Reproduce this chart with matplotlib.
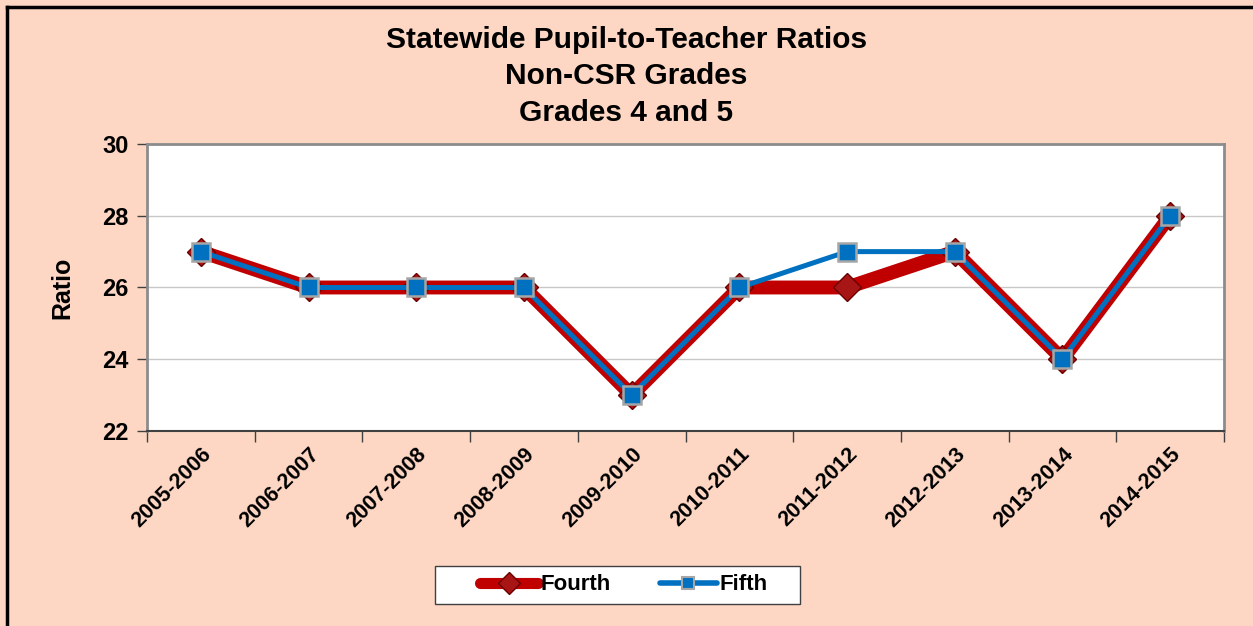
import numpy as np
import matplotlib.pyplot as plt
from matplotlib.lines import Line2D
from matplotlib.patches import Rectangle

plt.rcParams['font.family'] = ['Liberation Sans', 'DejaVu Sans']

# data
years = ["2005-2006", "2006-2007", "2007-2008", "2008-2009", "2009-2010",
         "2010-2011", "2011-2012", "2012-2013", "2013-2014", "2014-2015"]
fourth = [27, 26, 26, 26, 23, 26, 26, 27, 24, 28]
fifth = [27, 26, 26, 26, 23, 26, 27, 27, 24, 28]

bg = "#FDD7C4"
red = "#C00000"
blue = "#0070C0"

fig = plt.figure(figsize=(12.53, 6.26), dpi=100, facecolor=bg)
ax = fig.add_axes([0.1173, 0.3115, 0.8596, 0.4585])
ax.set_facecolor("white")

x = np.arange(len(years))
ax.plot(x, fourth, color=red, lw=10, solid_capstyle="round", solid_joinstyle="round",
        marker="D", markersize=14, markerfacecolor="#A81515", markeredgecolor="#6A0000",
        markeredgewidth=1, zorder=3)
ax.plot(x, fifth, color=blue, lw=3.6, solid_joinstyle="round",
        marker="s", markersize=13.5, markerfacecolor=blue, markeredgecolor="#A6A6A6",
        markeredgewidth=1.8, zorder=4)

ax.set_xlim(-0.5, len(years) - 0.5)
ax.set_ylim(22, 30)
ax.set_yticks([22, 24, 26, 28, 30])
ax.yaxis.grid(True, color="#C8C8C8", lw=1)
ax.set_axisbelow(True)

# x ticks at category boundaries, labels centered
ax.set_xticks(np.arange(-0.5, len(years), 1.0))
ax.set_xticklabels([])
ax.set_xticks(x, minor=True)
ax.set_xticklabels(years, minor=True, rotation=45, ha="right", rotation_mode="anchor",
                   fontsize=15.5, fontweight="bold")
ax.tick_params(axis="x", which="major", length=8, color="#404040", width=1)
ax.tick_params(axis="x", which="minor", length=0, pad=9)
ax.tick_params(axis="y", length=7, width=1, color="#404040", labelsize=17, pad=6)
for lab in ax.get_yticklabels():
    lab.set_fontweight("bold")

for side in ["left", "top", "right"]:
    ax.spines[side].set_color("#8C8C8C")
    ax.spines[side].set_linewidth(2)
ax.spines["bottom"].set_color("#404040")
ax.spines["bottom"].set_linewidth(1.5)

ax.set_ylabel("Ratio", fontsize=18, fontweight="bold", labelpad=20)

fig.text(0.5, 0.878, "Statewide Pupil-to-Teacher Ratios\nNon-CSR Grades\nGrades 4 and 5",
         ha="center", va="center", fontsize=21.5, fontweight="bold", linespacing=1.38)

# legend box (wider than matplotlib's padding allows)
fig.add_artist(Rectangle((0.3472, 0.0351), 0.2913, 0.0607, transform=fig.transFigure,
                         facecolor="white", edgecolor="#404040", lw=1, zorder=1))

handles = [
    Line2D([], [], color=red, lw=8, solid_capstyle="round", marker="D", markersize=11,
           markerfacecolor="#A81515", markeredgecolor="#6A0000"),
    Line2D([], [], color=blue, lw=4, solid_capstyle="round", marker="s", markersize=9,
           markerfacecolor=blue, markeredgecolor="#A6A6A6", markeredgewidth=1.5),
]
leg = fig.legend(handles, ["Fourth", "Fifth"], loc="center", bbox_to_anchor=(0.498, 0.0655),
                 ncol=2, frameon=False, prop={"size": 16, "weight": "bold"}, handlelength=2.6,
                 handletextpad=0.1, columnspacing=2.2, borderpad=0.45, borderaxespad=0)
leg.set_zorder(2)

# outer border (left and top)
fig.add_artist(Line2D([0.0056, 0.0056], [0, 0.989], color="black", lw=2.5, transform=fig.transFigure))
fig.add_artist(Line2D([0.0056, 1.0], [0.989, 0.989], color="black", lw=2.5, transform=fig.transFigure))

fig.savefig("out.png", dpi=100, facecolor=bg)
